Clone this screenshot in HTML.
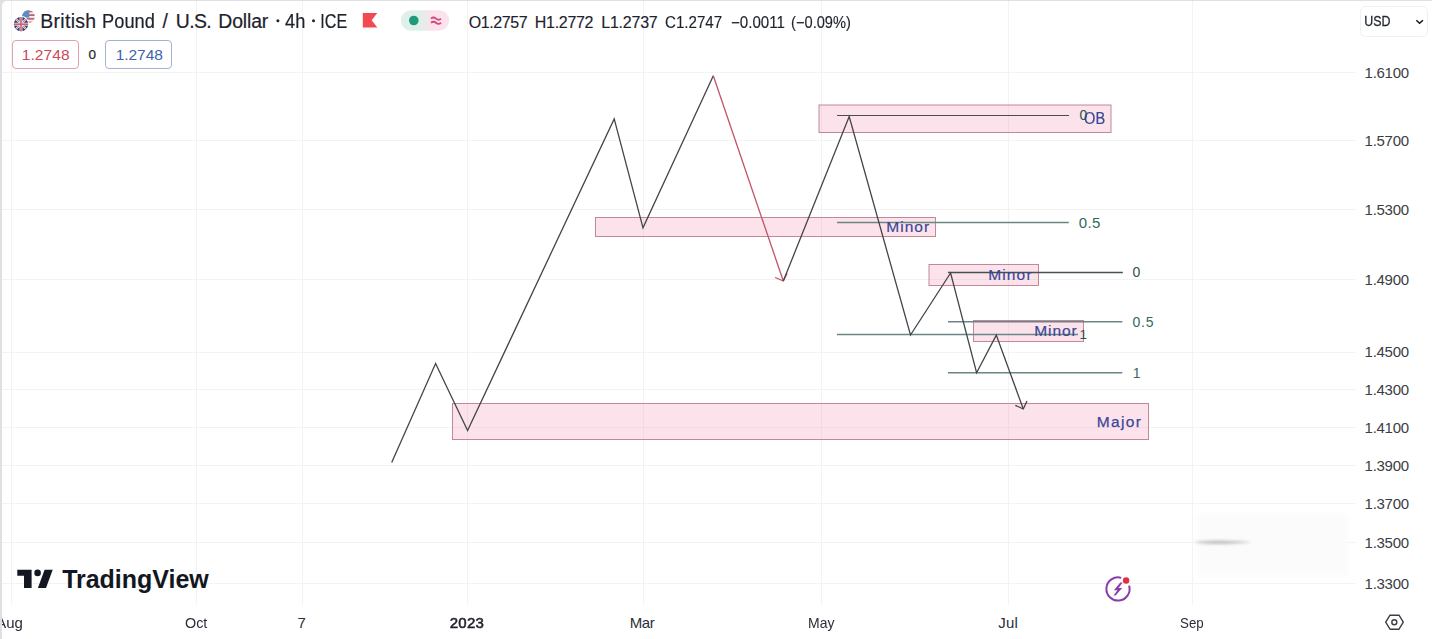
<!DOCTYPE html>
<html><head><meta charset="utf-8">
<style>
html,body{margin:0;padding:0;}
body{filter:blur(0.3px);width:1432px;height:639px;overflow:hidden;background:#dfe0e4;position:relative;font-family:"Liberation Sans", sans-serif;color:#131722;}
.panel{position:absolute;left:2px;top:1px;width:1430px;height:638px;background:#fff;border-top-left-radius:5px;}
.t{position:absolute;white-space:nowrap;line-height:1;}
svg{position:absolute;left:0;top:0;}
.box{position:absolute;border:1px solid;border-radius:4px;box-sizing:border-box;}
</style></head>
<body>
<div class="panel"></div>
<svg width="1432" height="639" viewBox="0 0 1432 639">
<line x1="2" y1="72.5" x2="1356" y2="72.5" stroke="#f3f3f4" stroke-width="1"/>
<line x1="2" y1="140.5" x2="1356" y2="140.5" stroke="#f3f3f4" stroke-width="1"/>
<line x1="2" y1="209.5" x2="1356" y2="209.5" stroke="#f3f3f4" stroke-width="1"/>
<line x1="2" y1="279.5" x2="1356" y2="279.5" stroke="#f3f3f4" stroke-width="1"/>
<line x1="2" y1="352.5" x2="1356" y2="352.5" stroke="#f3f3f4" stroke-width="1"/>
<line x1="2" y1="389.5" x2="1356" y2="389.5" stroke="#f3f3f4" stroke-width="1"/>
<line x1="2" y1="427.5" x2="1356" y2="427.5" stroke="#f3f3f4" stroke-width="1"/>
<line x1="2" y1="465.5" x2="1356" y2="465.5" stroke="#f3f3f4" stroke-width="1"/>
<line x1="2" y1="503.5" x2="1356" y2="503.5" stroke="#f3f3f4" stroke-width="1"/>
<line x1="2" y1="542.5" x2="1356" y2="542.5" stroke="#f3f3f4" stroke-width="1"/>
<line x1="2" y1="583.5" x2="1356" y2="583.5" stroke="#f3f3f4" stroke-width="1"/>
<line x1="11.5" y1="1" x2="11.5" y2="605" stroke="#f3f3f4" stroke-width="1"/>
<line x1="196.5" y1="1" x2="196.5" y2="605" stroke="#f3f3f4" stroke-width="1"/>
<line x1="302.5" y1="1" x2="302.5" y2="605" stroke="#f3f3f4" stroke-width="1"/>
<line x1="467.5" y1="1" x2="467.5" y2="605" stroke="#f3f3f4" stroke-width="1"/>
<line x1="643.5" y1="1" x2="643.5" y2="605" stroke="#f3f3f4" stroke-width="1"/>
<line x1="821.5" y1="1" x2="821.5" y2="605" stroke="#f3f3f4" stroke-width="1"/>
<line x1="1008.5" y1="1" x2="1008.5" y2="605" stroke="#f3f3f4" stroke-width="1"/>
<line x1="1192.5" y1="1" x2="1192.5" y2="605" stroke="#f3f3f4" stroke-width="1"/>
<defs><filter id="bl" x="-50%" y="-200%" width="200%" height="500%"><feGaussianBlur stdDeviation="1.6"/></filter><filter id="bl2"><feGaussianBlur stdDeviation="2"/></filter></defs>
<rect x="1196" y="514" width="152" height="62" fill="#fbfbfb" filter="url(#bl2)" opacity="0.8"/>
<path d="M1193,542.3 Q1215,538.8 1252,542.3 Q1215,545.8 1193,542.3 Z" fill="#b4b4b8" filter="url(#bl)" opacity="0.85"/>
<rect x="819" y="105" width="292" height="27.5" fill="rgba(236,64,122,0.15)" stroke="#c28799" stroke-width="1"/>
<rect x="595.5" y="217.5" width="340.0" height="19.0" fill="rgba(236,64,122,0.15)" stroke="#c28799" stroke-width="1"/>
<rect x="929" y="264.5" width="109.5" height="21.0" fill="rgba(236,64,122,0.15)" stroke="#c28799" stroke-width="1"/>
<rect x="973.5" y="320.5" width="110.0" height="21.0" fill="rgba(236,64,122,0.15)" stroke="#c28799" stroke-width="1"/>
<rect x="452.5" y="403.5" width="696.0" height="36.0" fill="rgba(236,64,122,0.15)" stroke="#c28799" stroke-width="1"/>
<line x1="837" y1="115.5" x2="1069" y2="115.5" stroke="#46504f" stroke-width="1.2"/>
<line x1="837" y1="222.5" x2="1068.8" y2="222.5" stroke="#6a8684" stroke-width="1.5"/>
<line x1="837" y1="334.5" x2="1078" y2="334.5" stroke="#6a8684" stroke-width="1.5"/>
<line x1="948" y1="272.5" x2="1122.8" y2="272.5" stroke="#46504f" stroke-width="1.3"/>
<line x1="948" y1="321.7" x2="1122.3" y2="321.7" stroke="#6a8684" stroke-width="1.5"/>
<line x1="948" y1="372.8" x2="1122.3" y2="372.8" stroke="#6a8684" stroke-width="1.5"/>
<polyline fill="none" stroke="#42454c" stroke-width="1.3" stroke-linejoin="miter" points="391.7,462.4 435.6,363.5 467.6,430.5 614.2,118.9 643,227.8 713.3,75.8"/>
<polyline fill="none" stroke="#c05468" stroke-width="1.3" points="713.3,75.8 783.3,281"/>
<polyline fill="none" stroke="#c05468" stroke-width="1.3" points="775.1,277.5 783.3,281 787.1,273.4"/>
<polyline fill="none" stroke="#42454c" stroke-width="1.3" stroke-linejoin="miter" points="783.3,281 849.2,116.6 910.5,335 950.6,273 976.6,372.7 996.3,335.1 1023.3,409"/>
<polyline fill="none" stroke="#42454c" stroke-width="1.3" points="1015.3,405.3 1023.3,409 1027,401"/>
<g>
<clipPath id="cu"><circle cx="28.5" cy="16.5" r="6.3"/></clipPath>
<g clip-path="url(#cu)">
<rect x="22" y="10" width="13" height="13" fill="#f4eef0"/>
<rect x="22" y="10.5" width="13" height="1.8" fill="#c7606e"/>
<rect x="22" y="14.2" width="13" height="1.8" fill="#c7606e"/>
<rect x="22" y="17.9" width="13" height="1.8" fill="#c7606e"/>
<rect x="22" y="21.6" width="13" height="1.8" fill="#c7606e"/>
<rect x="21" y="9" width="8.3" height="8.6" fill="#5a8cc8"/>
</g>
<circle cx="21" cy="24.2" r="8.2" fill="#fff"/>
<clipPath id="cuk"><circle cx="21" cy="24.2" r="7.1"/></clipPath>
<g clip-path="url(#cuk)">
<rect x="13" y="16" width="16" height="16" fill="#323771"/>
<line x1="13" y1="16" x2="29" y2="32" stroke="#e8dfe6" stroke-width="2"/>
<line x1="29" y1="16" x2="13" y2="32" stroke="#e8dfe6" stroke-width="2"/>
<line x1="13" y1="16" x2="29" y2="32" stroke="#b8606e" stroke-width="0.7"/>
<line x1="29" y1="16" x2="13" y2="32" stroke="#b8606e" stroke-width="0.7"/>
<rect x="13" y="22.7" width="16" height="3" fill="#eadde3"/>
<rect x="19.5" y="16" width="3" height="16" fill="#eadde3"/>
<rect x="13" y="23.5" width="16" height="1.4" fill="#c45a68"/>
<rect x="20.3" y="16" width="1.4" height="16" fill="#c45a68"/>
</g>
</g>
<path d="M362.8,13.1 H377.3 L371.7,20.3 L377.3,27.5 H362.8 Z" fill="#f24a52"/>
<defs><linearGradient id="pg" x1="0" x2="1"><stop offset="0" stop-color="#dff0eb"/><stop offset="0.42" stop-color="#dff0eb"/><stop offset="0.62" stop-color="#fbe2eb"/><stop offset="1" stop-color="#fbe2eb"/></linearGradient></defs>
<rect x="400.8" y="10.3" width="48.4" height="20.5" rx="10.25" fill="url(#pg)"/>
<circle cx="413.8" cy="20.5" r="4.8" fill="#1f9a7c"/>
<path d="M431,18.6 q2.5,-2.2 5,0 t5,0 M431,22.8 q2.5,-2.2 5,0 t5,0" fill="none" stroke="#cf4a7e" stroke-width="1.8"/>
<circle cx="277.9" cy="20.8" r="1.5" fill="#1e222d"/><circle cx="313.5" cy="20.8" r="1.5" fill="#1e222d"/>
<rect x="1360.5" y="6.5" width="67" height="30" rx="5" fill="none" stroke="#f0f1f4" stroke-width="1"/>
<path d="M1416.3,20.3 L1419.6,23.3 L1422.9,20.3" fill="none" stroke="#131722" stroke-width="1.5"/>
<path d="M17.3,569.8 H31.6 V587.9 H24 V575.7 H17.3 Z" fill="#131722"/>
<circle cx="37.6" cy="572.9" r="3.3" fill="#131722"/>
<path d="M44.6,569.8 H52.7 L46,587.9 H37.9 Z" fill="#131722"/>
<path d="M1129.09,585.6 A11.6,11.6 0 1 1 1121.2,577.85" fill="none" stroke="#8b3dab" stroke-width="2"/>
<circle cx="1126.1" cy="580.5" r="3.2" fill="#e0303f"/>
<path d="M1120.3,582.6 L1122.6,582.6 L1118.6,588 L1122.2,588 L1115.6,595.6 L1113.6,595.6 L1117.4,590.2 L1113.9,590.2 Z" fill="#8b3dab"/>
<path d="M1390,615.2 H1399 L1403.3,622.2 L1399,629.2 H1390 L1385.7,622.2 Z" fill="none" stroke="#3c3f47" stroke-width="1.4" stroke-linejoin="round"/>
<circle cx="1394.3" cy="622.2" r="2.5" fill="none" stroke="#3c3f47" stroke-width="1.4"/>
</svg>

<div class="box" style="left:12px;top:40px;width:67px;height:29px;border-color:#e0a2a8;"></div>
<div class="box" style="left:105px;top:40px;width:67px;height:29px;border-color:#a3b3cf;"></div>

<div class="t" style="left:40.25px;top:11.58px;font-size:19.4px;color:#1e222d;font-weight:normal;font-style:normal;letter-spacing:0.330px;-webkit-text-stroke:0.2px #1e222d;">British</div>
<div class="t" style="left:101.75px;top:11.58px;font-size:19.4px;color:#1e222d;font-weight:normal;font-style:normal;letter-spacing:0.000px;transform:scaleX(0.9410);transform-origin:1.55px 0;-webkit-text-stroke:0.2px #1e222d;">Pound</div>
<div class="t" style="left:162.60px;top:11.58px;font-size:19.4px;color:#1e222d;font-weight:normal;font-style:normal;letter-spacing:0.000px;-webkit-text-stroke:0.2px #1e222d;">/</div>
<div class="t" style="left:175.75px;top:11.58px;font-size:19.4px;color:#1e222d;font-weight:normal;font-style:normal;letter-spacing:-0.577px;-webkit-text-stroke:0.2px #1e222d;">U.S.</div>
<div class="t" style="left:218.35px;top:11.58px;font-size:19.4px;color:#1e222d;font-weight:normal;font-style:normal;letter-spacing:-0.138px;-webkit-text-stroke:0.2px #1e222d;">Dollar</div>
<div class="t" style="left:285.21px;top:11.58px;font-size:19.4px;color:#1e222d;font-weight:normal;font-style:normal;letter-spacing:0.000px;transform:scaleX(0.9408);transform-origin:0.39px 0;-webkit-text-stroke:0.2px #1e222d;">4h</div>
<div class="t" style="left:320.15px;top:11.58px;font-size:19.4px;color:#1e222d;font-weight:normal;font-style:normal;letter-spacing:0.000px;transform:scaleX(0.8301);transform-origin:1.75px 0;-webkit-text-stroke:0.2px #1e222d;">ICE</div>
<div class="t" style="left:468.70px;top:14.86px;font-size:16px;color:#1e222d;font-weight:normal;font-style:normal;letter-spacing:-0.390px;-webkit-text-stroke:0.15px #1e222d;">O1.2757</div>
<div class="t" style="left:534.82px;top:14.86px;font-size:16px;color:#1e222d;font-weight:normal;font-style:normal;letter-spacing:-0.300px;-webkit-text-stroke:0.15px #1e222d;">H1.2772</div>
<div class="t" style="left:601.22px;top:14.86px;font-size:16px;color:#1e222d;font-weight:normal;font-style:normal;letter-spacing:-0.223px;-webkit-text-stroke:0.15px #1e222d;">L1.2737</div>
<div class="t" style="left:665.10px;top:14.86px;font-size:16px;color:#1e222d;font-weight:normal;font-style:normal;letter-spacing:0.000px;transform:scaleX(0.9443);transform-origin:0.80px 0;-webkit-text-stroke:0.15px #1e222d;">C1.2747</div>
<div class="t" style="left:731.20px;top:14.86px;font-size:16px;color:#1e222d;font-weight:normal;font-style:normal;letter-spacing:0.000px;transform:scaleX(0.9420);transform-origin:0.80px 0;-webkit-text-stroke:0.15px #1e222d;">−0.0011</div>
<div class="t" style="left:791.04px;top:14.86px;font-size:16px;color:#1e222d;font-weight:normal;font-style:normal;letter-spacing:0.000px;transform:scaleX(0.9154);transform-origin:0.96px 0;-webkit-text-stroke:0.15px #1e222d;">(−0.09%)</div>
<div class="t" style="left:21.76px;top:47.48px;font-size:15.5px;color:#c94a58;font-weight:normal;font-style:normal;letter-spacing:0.097px;">1.2748</div>
<div class="t" style="left:88.46px;top:48.37px;font-size:13.5px;color:#1e222d;font-weight:normal;font-style:normal;letter-spacing:0.000px;-webkit-text-stroke:0.2px #1e222d;">0</div>
<div class="t" style="left:115.66px;top:47.48px;font-size:15.5px;color:#4063ae;font-weight:normal;font-style:normal;letter-spacing:-0.043px;">1.2748</div>
<div class="t" style="left:1364.36px;top:13.48px;font-size:15.5px;color:#1e222d;font-weight:normal;font-style:normal;letter-spacing:0.000px;transform:scaleX(0.8008);transform-origin:1.24px 0;-webkit-text-stroke:0.3px #1e222d;">USD</div>
<div class="t" style="left:1364.60px;top:64.80px;font-size:15px;color:#3a3d46;font-weight:normal;font-style:normal;letter-spacing:-0.280px;">1.6100</div>
<div class="t" style="left:1364.60px;top:132.70px;font-size:15px;color:#3a3d46;font-weight:normal;font-style:normal;letter-spacing:-0.280px;">1.5700</div>
<div class="t" style="left:1364.60px;top:201.90px;font-size:15px;color:#3a3d46;font-weight:normal;font-style:normal;letter-spacing:-0.280px;">1.5300</div>
<div class="t" style="left:1364.60px;top:272.30px;font-size:15px;color:#3a3d46;font-weight:normal;font-style:normal;letter-spacing:-0.280px;">1.4900</div>
<div class="t" style="left:1364.60px;top:344.40px;font-size:15px;color:#3a3d46;font-weight:normal;font-style:normal;letter-spacing:-0.280px;">1.4500</div>
<div class="t" style="left:1364.60px;top:381.60px;font-size:15px;color:#3a3d46;font-weight:normal;font-style:normal;letter-spacing:-0.280px;">1.4300</div>
<div class="t" style="left:1364.60px;top:419.70px;font-size:15px;color:#3a3d46;font-weight:normal;font-style:normal;letter-spacing:-0.280px;">1.4100</div>
<div class="t" style="left:1364.60px;top:457.80px;font-size:15px;color:#3a3d46;font-weight:normal;font-style:normal;letter-spacing:-0.280px;">1.3900</div>
<div class="t" style="left:1364.60px;top:495.90px;font-size:15px;color:#3a3d46;font-weight:normal;font-style:normal;letter-spacing:-0.280px;">1.3700</div>
<div class="t" style="left:1364.60px;top:534.80px;font-size:15px;color:#3a3d46;font-weight:normal;font-style:normal;letter-spacing:-0.280px;">1.3500</div>
<div class="t" style="left:1364.60px;top:576.20px;font-size:15px;color:#3a3d46;font-weight:normal;font-style:normal;letter-spacing:-0.280px;">1.3300</div>
<div class="t" style="left:185.05px;top:615.10px;font-size:15px;color:#2a2e39;font-weight:normal;font-style:normal;letter-spacing:0.000px;transform:scaleX(0.9556);transform-origin:0.75px 0;">Oct</div>
<div class="t" style="left:297.55px;top:615.10px;font-size:15px;color:#2a2e39;font-weight:normal;font-style:normal;letter-spacing:0.000px;">7</div>
<div class="t" style="left:629.70px;top:615.10px;font-size:15px;color:#2a2e39;font-weight:normal;font-style:normal;letter-spacing:-0.375px;">Mar</div>
<div class="t" style="left:808.00px;top:615.10px;font-size:15px;color:#2a2e39;font-weight:normal;font-style:normal;letter-spacing:0.000px;transform:scaleX(0.9319);transform-origin:1.20px 0;">May</div>
<div class="t" style="left:998.30px;top:615.10px;font-size:15px;color:#2a2e39;font-weight:normal;font-style:normal;letter-spacing:0.200px;">Jul</div>
<div class="t" style="left:1180.15px;top:615.10px;font-size:15px;color:#2a2e39;font-weight:normal;font-style:normal;letter-spacing:0.000px;transform:scaleX(0.8876);transform-origin:0.75px 0;">Sep</div>
<div class="t" style="left:-3.85px;top:615.10px;font-size:15px;color:#2a2e39;font-weight:normal;font-style:normal;letter-spacing:0.000px;">Aug</div>
<div class="t" style="left:449.75px;top:615.10px;font-size:15px;color:#1e222d;font-weight:normal;font-style:normal;letter-spacing:0.250px;-webkit-text-stroke:0.55px #1e222d;">2023</div>
<div class="t" style="left:886.26px;top:218.98px;font-size:15.5px;color:#3a4797;font-weight:normal;font-style:normal;letter-spacing:1.036px;-webkit-text-stroke:0.2px #3a4797;">Minor</div>
<div class="t" style="left:988.16px;top:266.98px;font-size:15.5px;color:#3a4797;font-weight:normal;font-style:normal;letter-spacing:1.161px;-webkit-text-stroke:0.2px #3a4797;">Minor</div>
<div class="t" style="left:1034.16px;top:322.98px;font-size:15.5px;color:#3a4797;font-weight:normal;font-style:normal;letter-spacing:0.961px;-webkit-text-stroke:0.2px #3a4797;">Minor</div>
<div class="t" style="left:1096.66px;top:413.88px;font-size:15.5px;color:#3a4797;font-weight:normal;font-style:normal;letter-spacing:1.361px;-webkit-text-stroke:0.25px #3a4797;">Major</div>
<div class="t" style="left:1083.60px;top:110.86px;font-size:16px;color:#3a4797;font-weight:normal;font-style:normal;letter-spacing:0.000px;transform:scaleX(0.9120);transform-origin:0.80px 0;-webkit-text-stroke:0.2px #3a4797;">OB</div>
<div class="t" style="left:1079.44px;top:107.95px;font-size:14px;color:#2d5249;font-weight:normal;font-style:normal;letter-spacing:0.000px;">0</div>
<div class="t" style="left:1078.70px;top:214.80px;font-size:15px;color:#2f6a5e;font-weight:normal;font-style:normal;letter-spacing:0.375px;">0.5</div>
<div class="t" style="left:1132.44px;top:264.95px;font-size:14px;color:#35504b;font-weight:normal;font-style:normal;letter-spacing:0.000px;">0</div>
<div class="t" style="left:1132.44px;top:314.75px;font-size:14px;color:#2f6a5e;font-weight:normal;font-style:normal;letter-spacing:0.830px;">0.5</div>
<div class="t" style="left:1132.68px;top:365.55px;font-size:14px;color:#3f6a62;font-weight:normal;font-style:normal;letter-spacing:0.000px;">1</div>
<div class="t" style="left:1079.42px;top:327.57px;font-size:13.5px;color:#2d5249;font-weight:normal;font-style:normal;letter-spacing:0.000px;">1</div>
<div class="t" style="left:62.15px;top:567.24px;font-size:25px;color:#131722;font-weight:bold;font-style:normal;letter-spacing:-0.020px;">TradingView</div>
<div style="position:absolute;left:0;top:0;width:2px;height:639px;background:#dfe0e4"></div>
</body></html>
